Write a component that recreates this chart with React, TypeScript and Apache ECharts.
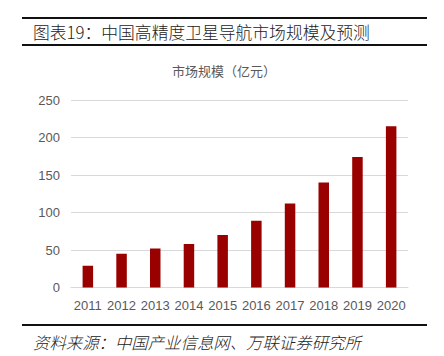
import React, { useEffect, useRef } from "react";
import * as echarts from "echarts";

const years = ["2011", "2012", "2013", "2014", "2015", "2016", "2017", "2018", "2019", "2020"];
const marketSize = [29, 45, 52, 58, 70, 89, 112, 140, 174, 215];
const titleText = "图表19：中国高精度卫星导航市场规模及预测";
const subtitleText = "市场规模（亿元）";
const sourceText = "资料来源：中国产业信息网、万联证券研究所";

export default function App() {
  const ref = useRef<HTMLDivElement>(null);
  useEffect(() => {
    if (!ref.current) return;
    const chart = echarts.init(ref.current, null, { renderer: "svg" });
    const cjk = "'Noto Sans CJK SC', sans-serif";
    chart.setOption({
      animation: false,
      backgroundColor: "#ffffff",
      grid: { left: 71, right: 36, top: 100, bottom: 68.5 },
      xAxis: {
        type: "category",
        data: years,
        axisLine: { show: true, lineStyle: { color: "#d9d9d9", width: 1 } },
        axisTick: { show: false },
        axisLabel: {
          interval: 0,
          color: "#595959",
          fontSize: 13,
          fontFamily: "'Liberation Sans', Arial, sans-serif",
          margin: 11,
        },
      },
      yAxis: {
        type: "value",
        min: 0,
        max: 250,
        interval: 50,
        axisLine: { show: false },
        axisTick: { show: false },
        splitLine: { lineStyle: { color: "#d9d9d9", width: 1 } },
        axisLabel: { color: "#595959", fontSize: 13, fontFamily: "'Liberation Sans', Arial, sans-serif", margin: 11 },
      },
      series: [
        {
          type: "bar",
          data: marketSize,
          barWidth: 10.5,
          itemStyle: { color: "#990000" },
        },
      ],
      graphic: [
        { type: "line", shape: { x1: 22, y1: 18, x2: 427, y2: 18 }, style: { stroke: "#111", lineWidth: 2 } },
        { type: "line", shape: { x1: 22, y1: 45, x2: 427, y2: 45 }, style: { stroke: "#111", lineWidth: 2 } },
        {
          type: "text",
          x: 33,
          y: 31.5,
          style: { text: titleText, fill: "#222", font: `300 16.8px ${cjk}`, verticalAlign: "middle", align: "left" },
        },
        {
          type: "text",
          x: 224,
          y: 70,
          style: { text: subtitleText, fill: "#595959", font: `13px ${cjk}`, verticalAlign: "middle", align: "center" },
        },
        { type: "line", shape: { x1: 22, y1: 325, x2: 427, y2: 325 }, style: { stroke: "#111", lineWidth: 2 } },
        {
          type: "text",
          x: 33,
          y: 341.5,
          style: { text: sourceText, fill: "#222", font: `italic 300 16.4px ${cjk}`, verticalAlign: "middle", align: "left" },
        },
      ],
    });
    return () => chart.dispose();
  }, []);
  return <div ref={ref} style={{ width: 444, height: 356, position: "absolute", left: 0, top: 0 }} />;
}
